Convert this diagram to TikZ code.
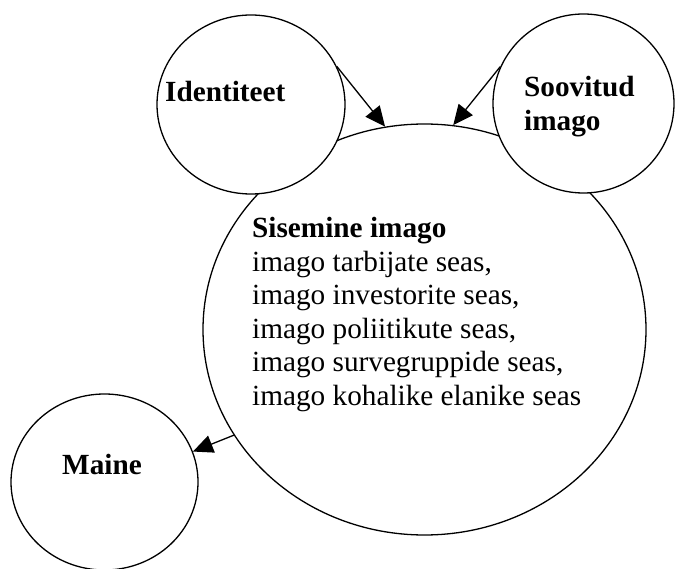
\documentclass[tikz,border=0pt]{standalone}
\usepackage{fontspec}
\setmainfont{Liberation Serif}
\usetikzlibrary{shapes.geometric,arrows.meta}
\tikzset{
  bubble/.style={ellipse,draw=black,line width=1.3pt,inner sep=0pt,fill=white},
  lbl/.style={anchor=base west,inner sep=0pt,font=\fontsize{29.25}{33.5}\selectfont},
  arr/.style={line width=1.3pt,-{Triangle[length=20pt,width=18pt]}}
}
\begin{document}
\begin{tikzpicture}[x=1pt,y=-1pt]
\useasboundingbox (0,0) rectangle (675,569);
\fill[white] (0,0) rectangle (675,569);
% circles
\node[bubble,minimum width=443pt,minimum height=411pt] (big) at (424.5,329.5) {};
\node[bubble,minimum width=188pt,minimum height=179pt] (ident) at (251,104.5) {};
\node[bubble,minimum width=181pt,minimum height=179pt] (soov) at (583.5,103.5) {};
\node[bubble,minimum width=187pt,minimum height=176pt] (maine) at (104.5,482) {};
% texts
\node[lbl] (tident) at (165,102) {\textbf{Identiteet}};
\node[lbl] (tsoov) at (524,97) {\parbox[t]{200pt}{\textbf{Soovitud}\\\textbf{imago}}};
\node[lbl] (tmaine) at (62,474) {\textbf{Maine}};
\node[lbl] (tbig) at (252,238) {\parbox[t]{400pt}{\textbf{Sisemine imago}\\
imago tarbijate seas,\\
imago investorite seas,\\
imago poliitikute seas,\\
imago survegruppide seas,\\
imago kohalike elanike seas}};
% arrows
\draw[arr] (ident.24.7) -- (big.101.7);
\draw[arr] (soov.156.5) -- (big.82.5);
\draw[arr] (big.209.8) -- (maine.19.6);
\end{tikzpicture}
\end{document}
